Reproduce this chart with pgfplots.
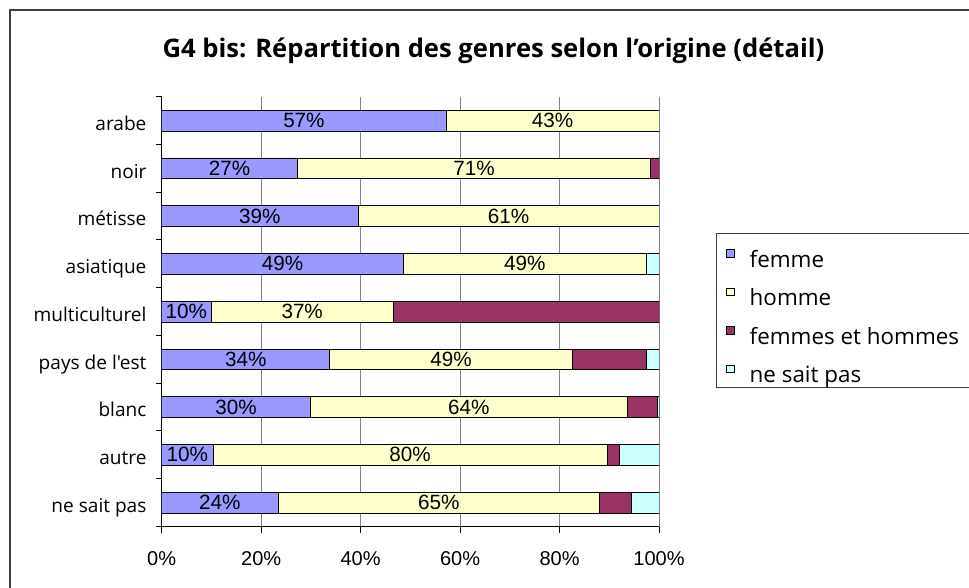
\documentclass[border=0pt]{standalone}
\usepackage{fontspec}
\setmainfont{Liberation Sans}
\newfontfamily\seg{Open Sans}
\usepackage{pgfplots}
\pgfplotsset{compat=1.18}
\usepackage{pgfplotstable}

\definecolor{cfem}{HTML}{9999FF}
\definecolor{chom}{HTML}{FFFFCC}
\definecolor{cfh}{HTML}{993366}
\definecolor{cnsp}{HTML}{CCFFFF}

% y: 8 = arabe ... 0 = ne sait pas
\pgfplotstableread{
y femme homme fh nsp
8 57.2 42.8 0 0
7 27.3 71.0 1.7 0
6 39.5 60.5 0 0
5 48.6 48.8 0 2.6
4 9.9 36.7 53.4 0
3 33.8 48.8 14.8 2.6
2 29.9 63.7 6.1 0.3
1 10.3 79.3 2.4 8.0
0 23.4 64.6 6.5 5.5
}\datatable

% label positions (centre of segment) and texts
\pgfplotstableread{
y xc lab
8 28.6 57
7 13.65 27
6 19.75 39
5 24.3 49
4 4.95 10
3 16.9 34
2 14.95 30
1 5.15 10
0 11.7 24
8 78.6 43
7 62.8 71
6 69.75 61
5 73.0 49
4 28.25 37
3 58.2 49
2 61.75 64
1 49.95 80
0 55.7 65
}\labtable

\def\u{0.75pt}

\begin{document}
\begin{tikzpicture}
\useasboundingbox (0,0) rectangle ({969*\u},{587*\u});
% outer frame
\draw[black!75, line width=1pt] ({10*\u},{-5*\u}) -- ({10*\u},{(587-10)*\u}) -- ({975*\u},{(587-10)*\u});
% title
\node[font=\seg\bfseries\fontsize{19.2}{23}\selectfont, anchor=base, inner sep=0pt] at ({493.5*\u},{(587-57.3)*\u}) {G4 bis: Répartition des genres selon l’origine (détail)};

\begin{axis}[
  at={({161.7*\u},{(587-526.5)*\u})}, anchor=south west,
  scale only axis, width={497.3*\u}, height={429.8*\u},
  xbar stacked, bar width={20.7*\u},
  xmin=0, xmax=100, ymin=-0.5, ymax=8.5,
  axis x line*=bottom, axis y line*=left,
  axis line style={-, black, line width=0.75pt},
  every outer x axis line/.append style={-},
  every outer y axis line/.append style={-},
  tick align=outside,
  major tick length={6*\u},
  tick style={black, line width=0.75pt},
  xtick={0,20,...,100},
  xticklabel={\pgfmathprintnumber{\tick}\%},
  /pgf/number format/assume math mode=true,
  xticklabel style={font=\fontsize{15}{17}\selectfont, yshift={-14*\u}},
  ytick={-0.5,0.5,...,8.5},
  yticklabels={},
  extra y ticks={0,1,2,3,4,5,6,7,8},
  extra y tick labels={ne sait pas,autre,blanc,pays de l'est,multiculturel,asiatique,métisse,noir,arabe},
  extra y tick style={major tick length=0pt, tick style={draw=none},
     yticklabel style={font=\seg\fontsize{14.3}{16}\selectfont, anchor=base east, inner sep=0pt, xshift={-15*\u}, yshift={-9.7*\u}}},
  xmajorgrids,
  major grid style={draw=black!50, line width=0.75pt},
  legend style={at={(1.1347,0.6452)}, anchor=north west, draw=none, fill=none, inner sep=0pt,
     font=\seg\fontsize{16.8}{19}\selectfont, row sep=12pt, column sep=11.5pt,
     nodes={inner sep=0pt, text height=11.5pt, text depth=3.5pt}},
  legend cell align=left,
  legend image code/.code={\draw[#1, draw=black, line width=0.5pt] (0pt,3.5pt) rectangle (5.6pt,9.1pt);},
  every axis plot/.append style={draw=black, line width=0.6pt},
]
\addplot[fill=cfem] table[x=femme, y=y] {\datatable};
\addplot[fill=chom] table[x=homme, y=y] {\datatable};
\addplot[fill=cfh] table[x=fh, y=y] {\datatable};
\addplot[fill=cnsp] table[x=nsp, y=y] {\datatable};
\legend{femme, homme, femmes et hommes, ne sait pas}
\end{axis}

\begin{axis}[
  at={({161.7*\u},{(587-526.5)*\u})}, anchor=south west,
  scale only axis, width={497.3*\u}, height={429.8*\u},
  xmin=0, xmax=100, ymin=-0.5, ymax=8.5,
  hide axis,
]
\addplot[draw=none, mark=none, nodes near coords={\pgfplotspointmeta\%},
  point meta=explicit symbolic,
  every node near coord/.append style={anchor=center, font=\fontsize{15.5}{17}\selectfont, inner sep=0pt}]
  table[x=xc, y=y, meta=lab] {\labtable};
\end{axis}

\draw[black!75, line width=0.75pt] ({716*\u},{(587-233)*\u}) rectangle ({985*\u},{(587-387)*\u});
\end{tikzpicture}
\end{document}
